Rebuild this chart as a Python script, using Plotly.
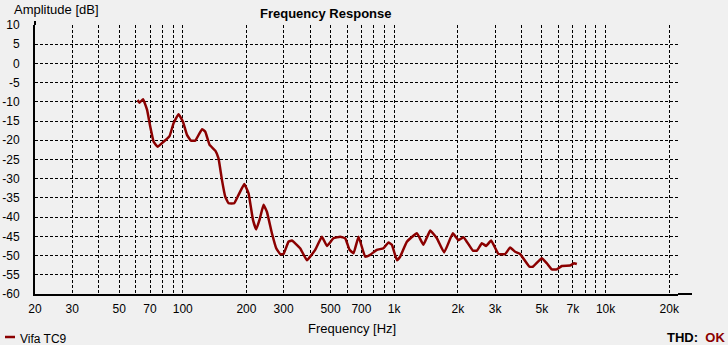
import numpy as np
import plotly.graph_objects as go

# ---- data ----
freq_hz = [61.1, 62.5, 64.9, 67.8, 70.2, 72.8, 76.0, 81.1, 86.6, 90.4, 95.5, 100.2, 104.7, 109.3,
           114.6, 123.3, 127.8, 133.9, 142.5, 147.6, 153.2, 158.9, 164.7, 175.2, 183.6, 195.4,
           204.7, 214.8, 222.6, 230.7, 241.0, 250.0, 264.0, 276.7, 289.0, 299.6, 316.3, 328.0,
           359.0, 386.6, 423.0, 455.0, 481.0, 516.0, 555.7, 586.7, 614.8, 642.3, 678.3, 729.0,
           770.0, 828.0, 890.0, 940.0, 975.0, 1030.0, 1067.0, 1148.0, 1280.0, 1375.0, 1480.0,
           1592.0, 1723.0, 1894.0, 2014.0, 2127.0, 2355.0, 2464.0, 2598.0, 2723.0, 2875.0,
           3113.0, 3348.0, 3536.0, 3733.0, 3941.0, 4364.0, 4529.0, 4991.0, 5272.0, 5567.0,
           5875.0, 6209.0, 6795.0, 7096.0, 7310.0]
amplitude_db = [-9.5, -10.2, -9.3, -12.1, -16.5, -20.4, -21.7, -20.4, -18.9, -15.6, -13.2, -15.2,
                -18.6, -20.1, -20.1, -17.1, -17.8, -21.2, -22.7, -24.7, -30.3, -34.7, -36.4, -36.4,
                -34.2, -31.4, -33.8, -40.7, -43.2, -40.7, -36.8, -38.6, -44.2, -48.1, -49.6, -49.6,
                -46.4, -46.1, -48.1, -51.2, -48.5, -45.1, -47.5, -45.5, -45.1, -45.5, -48.5, -49.4,
                -45.1, -50.3, -49.8, -48.5, -48.1, -46.6, -47.2, -51.2, -50.3, -46.4, -44.2, -47.2,
                -43.5, -45.5, -49.2, -44.2, -46.0, -45.2, -48.7, -48.7, -46.8, -47.5, -46.1, -49.6,
                -49.6, -47.9, -49.0, -49.6, -52.9, -52.9, -50.7, -52.0, -53.6, -53.6, -52.7, -52.6,
                -52.0, -52.2]

x_grid_vals = [20, 30, 40, 50, 60, 70, 80, 90, 100, 200, 300, 400, 500, 600, 700, 800, 900,
               1000, 2000, 3000, 4000, 5000, 6000, 7000, 8000, 9000, 10000, 20000]
x_grid_text = ["20", "30", "", "50", "", "70", "", "", "100", "200", "300", "", "500", "", "700",
               "", "", "1k", "2k", "3k", "", "5k", "", "7k", "", "", "10k", "20k"]
y_tick_vals = [10, 5, 0, -5, -10, -15, -20, -25, -30, -35, -40, -45, -50, -55, -60]
y_tick_text = ["10", "5", "0", "-5", "-10", "-15", "-20", "-25", "-30", "-35", "-40", "-45",
               "-50", "-55", "-60"]
series_name = "Vifa TC9"

# ---- layout geometry (pixels) ----
W, H = 728, 345
L, R, T, B = 35, 678, 25, 294


def px(xp):
    return (xp - L) / (R - L)


def py(yp):
    return (B - yp) / (B - T)


FONT = "Liberation Sans, Arial, sans-serif"
RED = "#8b0000"

fig = go.Figure()
fig.add_trace(go.Scatter(x=freq_hz, y=amplitude_db, mode="lines",
                         line=dict(color=RED, width=2.5, shape="spline", smoothing=0.3),
                         name=series_name, showlegend=False, cliponaxis=False))

grid = dict(showgrid=True, gridcolor="black", gridwidth=1, griddash="3px,2px",
            zeroline=False, showline=True, linecolor="black", linewidth=2, ticks="",
            automargin=False, layer="above traces",
            tickfont=dict(family=FONT, size=12, color="black"))

fig.update_xaxes(type="log", range=[np.log10(20), np.log10(22000)],
                 tickmode="array", tickvals=x_grid_vals, ticktext=x_grid_text,
                 ticklabelstandoff=3, **grid)
fig.update_yaxes(range=[-60, 10], tickmode="array", tickvals=y_tick_vals,
                 ticktext=y_tick_text, ticklabelstandoff=11, **grid)

shapes = [
    dict(type="line", xref="paper", yref="paper", x0=0, x1=0, y0=1, y1=py(21),
         line=dict(color="black", width=2)),
    dict(type="line", xref="paper", yref="paper", x0=1, x1=px(692), y0=0, y1=0,
         line=dict(color="black", width=2)),
    dict(type="line", xref="paper", yref="paper", x0=px(5), x1=px(15), y0=py(337), y1=py(337),
         line=dict(color=RED, width=2.5)),
]

annotations = [
    dict(text="Amplitude [dB]", x=px(12), y=py(9), xanchor="left", yanchor="middle",
         font=dict(family=FONT, size=13, color="black")),
    dict(text="<b>Frequency Response</b>", x=px(325.5), y=py(13), xanchor="center",
         yanchor="middle", font=dict(family=FONT, size=13, color="black")),
    dict(text="Frequency [Hz]", x=px(351.5), y=py(328.5), xanchor="center", yanchor="middle",
         font=dict(family=FONT, size=13, color="black")),
    dict(text=series_name, x=px(18), y=py(338.5), xanchor="left", yanchor="middle",
         font=dict(family=FONT, size=12, color="black")),
    dict(text="<b>THD:  <span style='color:#8b0000'>OK</span></b>", x=px(727), y=py(337.5),
         xanchor="right", yanchor="middle", font=dict(family=FONT, size=13, color="black")),
]
for a in annotations:
    a.update(xref="paper", yref="paper", showarrow=False)

fig.update_layout(width=W, height=H, margin=dict(l=L, r=W - R, t=T, b=H - B, pad=0, autoexpand=False),
                  paper_bgcolor="#f0f0f0", plot_bgcolor="#f0f0f0",
                  shapes=shapes, annotations=annotations, showlegend=False)

fig.write_html("out.html", config={"displayModeBar": False},
               post_script="document.body.style.margin='0';document.body.style.padding='0';"
                           "document.body.style.background='#f0f0f0';")
